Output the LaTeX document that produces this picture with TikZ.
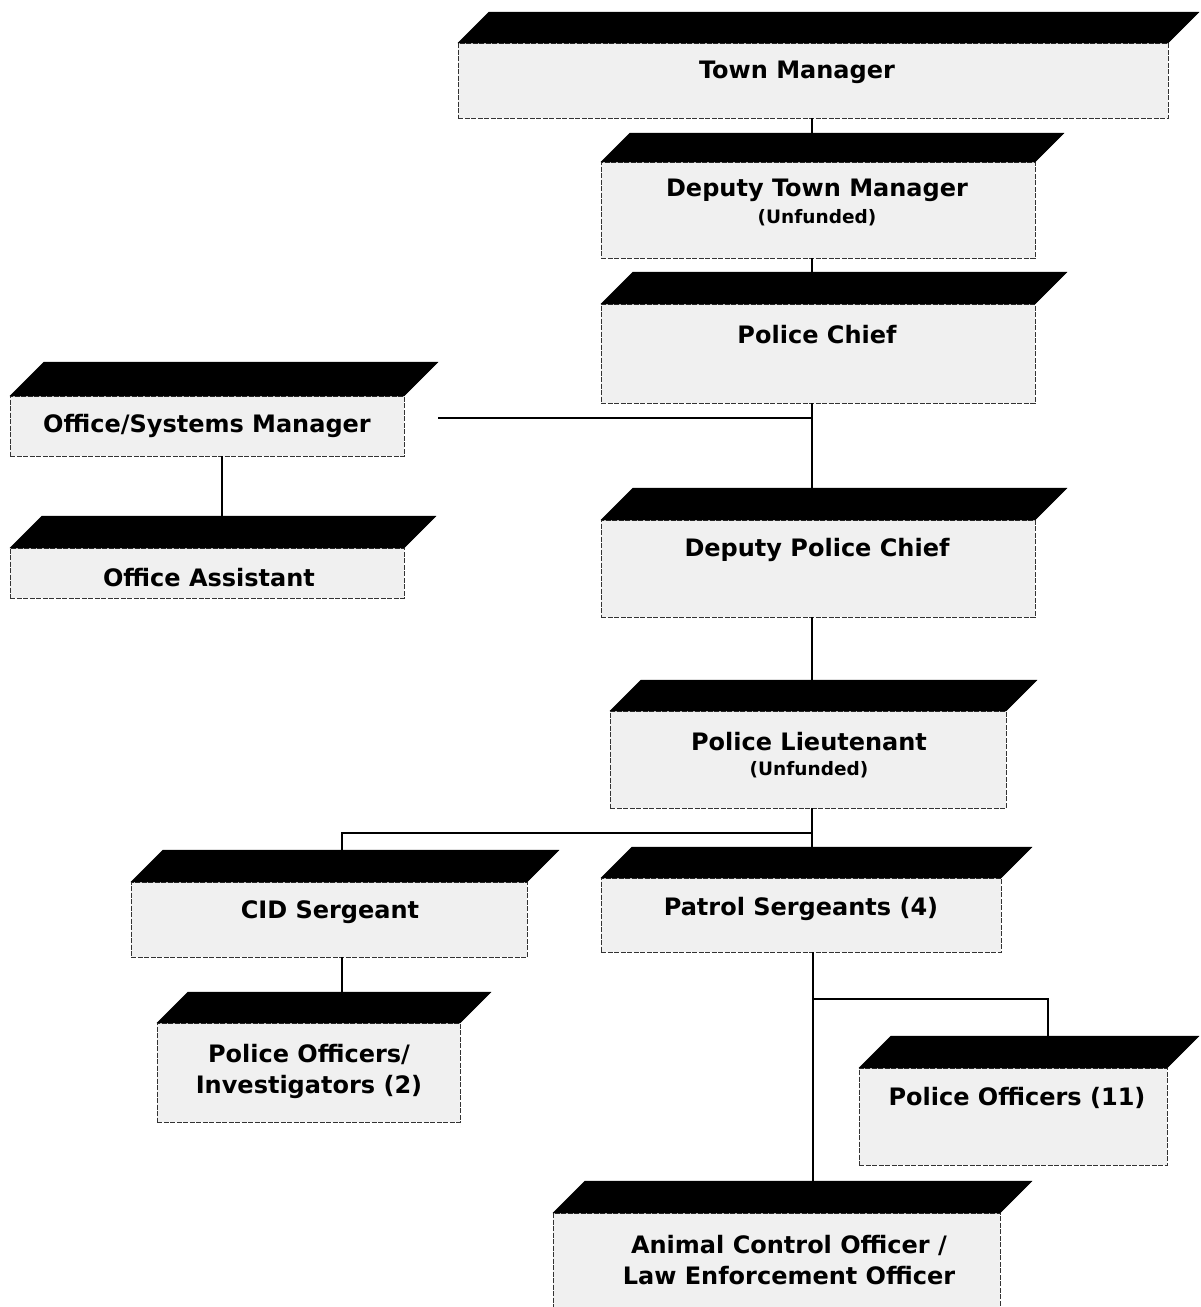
\documentclass[tikz,border=0pt]{standalone}
\usepackage{fontspec}
\newfontfamily\orgfont{DejaVu Sans}
\tikzset{
  frontbox/.style={draw=black!80, fill=black!6, line width=0.8pt, dash pattern=on 5pt off 1.5pt, inner sep=0pt, outer sep=0pt},
  topface/.style={fill=black, draw=black, line width=0.4pt},
  lbl/.style={font=\orgfont\bfseries\fontsize{24}{31}\selectfont, align=center, inner sep=0pt},
  sublbl/.style={font=\orgfont\bfseries\fontsize{18.5}{22}\selectfont, align=center, inner sep=0pt},
  conn/.style={draw=black, line width=1.6pt}
}
% #1 name, #2 left x, #3 right x, #4 top of black face, #5 top of front, #6 bottom of front
\newcommand\orgbox[6]{%
  \node[frontbox, minimum width={#3-#2}, minimum height={#6-#5}] (#1) at ({(#2+#3)/2},{(#5+#6)/2}) {};
  \fill[topface] (#1.north west) -- ++({#5-#4},{-(#5-#4)}) -- ++({#3-#2},0) -- (#1.north east) -- cycle;
}
\begin{document}
\begin{tikzpicture}[x=1pt,y=-1pt]
\useasboundingbox (0,0) rectangle (1201,1307);
\clip (0,0) rectangle (1201,1307);
\fill[white] (0,0) rectangle (1201,1307);

\orgbox{tm}{458}{1168}{12}{43}{118}
\orgbox{dtm}{601}{1035}{133}{162}{258}
\orgbox{pc}{601}{1035}{272}{304}{403}
\orgbox{osm}{10}{404}{362}{396}{456}
\orgbox{oa}{10}{404}{516}{548}{598}
\orgbox{dpc}{601}{1035}{488}{520}{617}
\orgbox{pl}{610}{1006}{680}{711}{808}
\orgbox{cid}{131}{527}{850}{882}{957}
\orgbox{ps}{601}{1001}{847}{878}{952}
\orgbox{poi}{157}{460}{992}{1023}{1122}
\orgbox{po}{859}{1167}{1036}{1068}{1165}
\orgbox{acl}{553}{1000}{1181}{1213}{1320}

% labels
\node[lbl] (tm-t) at (797,72) {Town Manager};
\node[lbl] (dtm-t) at (817,190) {Deputy Town Manager};
\node[sublbl] (dtm-s) at (817,218) {(Unfunded)};
\node[lbl] (pc-t) at (817,335) {Police Chief};
\node[lbl] (osm-t) at (207,426) {Office/Systems Manager};
\node[lbl] (oa-t) at (209,578) {Office Assistant};
\node[lbl] (dpc-t) at (817,550) {Deputy Police Chief};
\node[lbl] (pl-t) at (809,742) {Police Lieutenant};
\node[sublbl] (pl-s) at (809,770) {(Unfunded)};
\node[lbl] (cid-t) at (330,912) {CID Sergeant};
\node[lbl] (ps-t) at (801,909) {Patrol Sergeants (4)};
\node[lbl] (poi-t) at (309,1071) {Police Officers/\\Investigators (2)};
\node[lbl] (po-t) at (1017,1098) {Police Officers (11)};
\node[lbl] (acl-t) at (789,1260) {Animal Control Officer /\\Law Enforcement Officer};

% connectors
\coordinate (sp) at (812,0);
\coordinate (osmj) at (438,418);
\coordinate (j1) at (812,833);
\coordinate (j2) at (813,999);
\draw[conn] (sp |- tm.south) -- (sp |- dtm.north);
\draw[conn] (sp |- dtm.south) -- (sp |- pc.north);
\draw[conn] (sp |- pc.south) -- (sp |- dpc.north);
\draw[conn] (osmj) -- (sp |- osmj);
\draw[conn] ([xshift=15pt]osm.south) -- ([xshift=15pt]osm.south |- oa.north);
\draw[conn] (sp |- dpc.south) -- (sp |- pl.north);
\draw[conn] (sp |- pl.south) -- (sp |- ps.north);
\draw[conn] (j1) -| ([xshift=13pt]cid.north);
\draw[conn] ([xshift=13pt]cid.south) -- ([xshift=13pt]cid.south |- poi.north);
\draw[conn] (j2 |- ps.south) -- (j2 |- acl.north);
\draw[conn] (j2) -| ([xshift=35pt]po.north);
\end{tikzpicture}
\end{document}
